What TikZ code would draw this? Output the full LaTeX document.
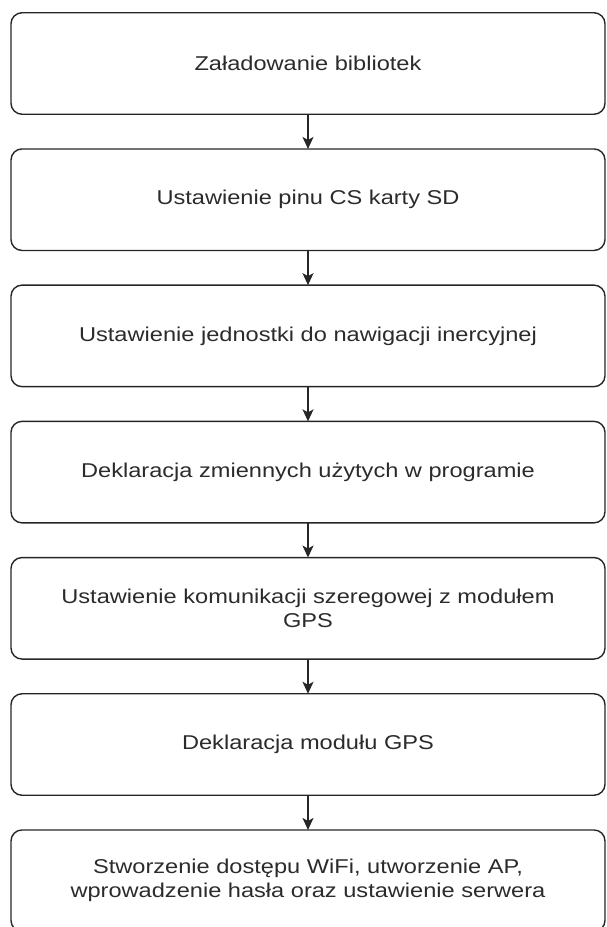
\documentclass[tikz,border=0pt]{standalone}
\usepackage{fontspec}
\setmainfont[FakeStretch=1.18]{Liberation Sans}
\usetikzlibrary{arrows.meta,positioning}
\definecolor{ramka}{HTML}{262626}
\definecolor{napis}{HTML}{2B2B2B}

\begin{document}
\begin{tikzpicture}[x=1pt,y=1pt,>=Stealth,node distance=34.7pt,
 blok/.style={draw=ramka,line width=1.4pt,rounded corners=11pt,minimum width=594pt,minimum height=101.5pt,inner sep=0pt,outer sep=0pt,align=center,text=napis,font=\fontsize{20}{24}\selectfont},
 strzalka/.style={->,draw=ramka,line width=1.5pt,>={Stealth[length=12pt,width=11pt,inset=3pt]}}]
 \useasboundingbox(0,0)rectangle(606,-927);
 \node[blok](b1)at(308,-63.5){Załadowanie bibliotek};
 \node[blok,below=of b1](b2){Ustawienie pinu CS karty SD};
 \node[blok,below=of b2](b3){Ustawienie jednostki do nawigacji inercyjnej};
 \node[blok,below=of b3](b4){Deklaracja zmiennych użytych w programie};
 \node[blok,below=of b4](b5){Ustawienie komunikacji szeregowej z modułem\\GPS};
 \node[blok,below=of b5](b6){Deklaracja modułu GPS};
 \node[blok,below=of b6](b7){Stworzenie dostępu WiFi, utworzenie AP,\\wprowadzenie hasła oraz ustawienie serwera};
 \foreach \a/\b in {b1/b2,b2/b3,b3/b4,b4/b5,b5/b6,b6/b7}
  \draw[strzalka](\a)--(\b);
\end{tikzpicture}
\end{document}
